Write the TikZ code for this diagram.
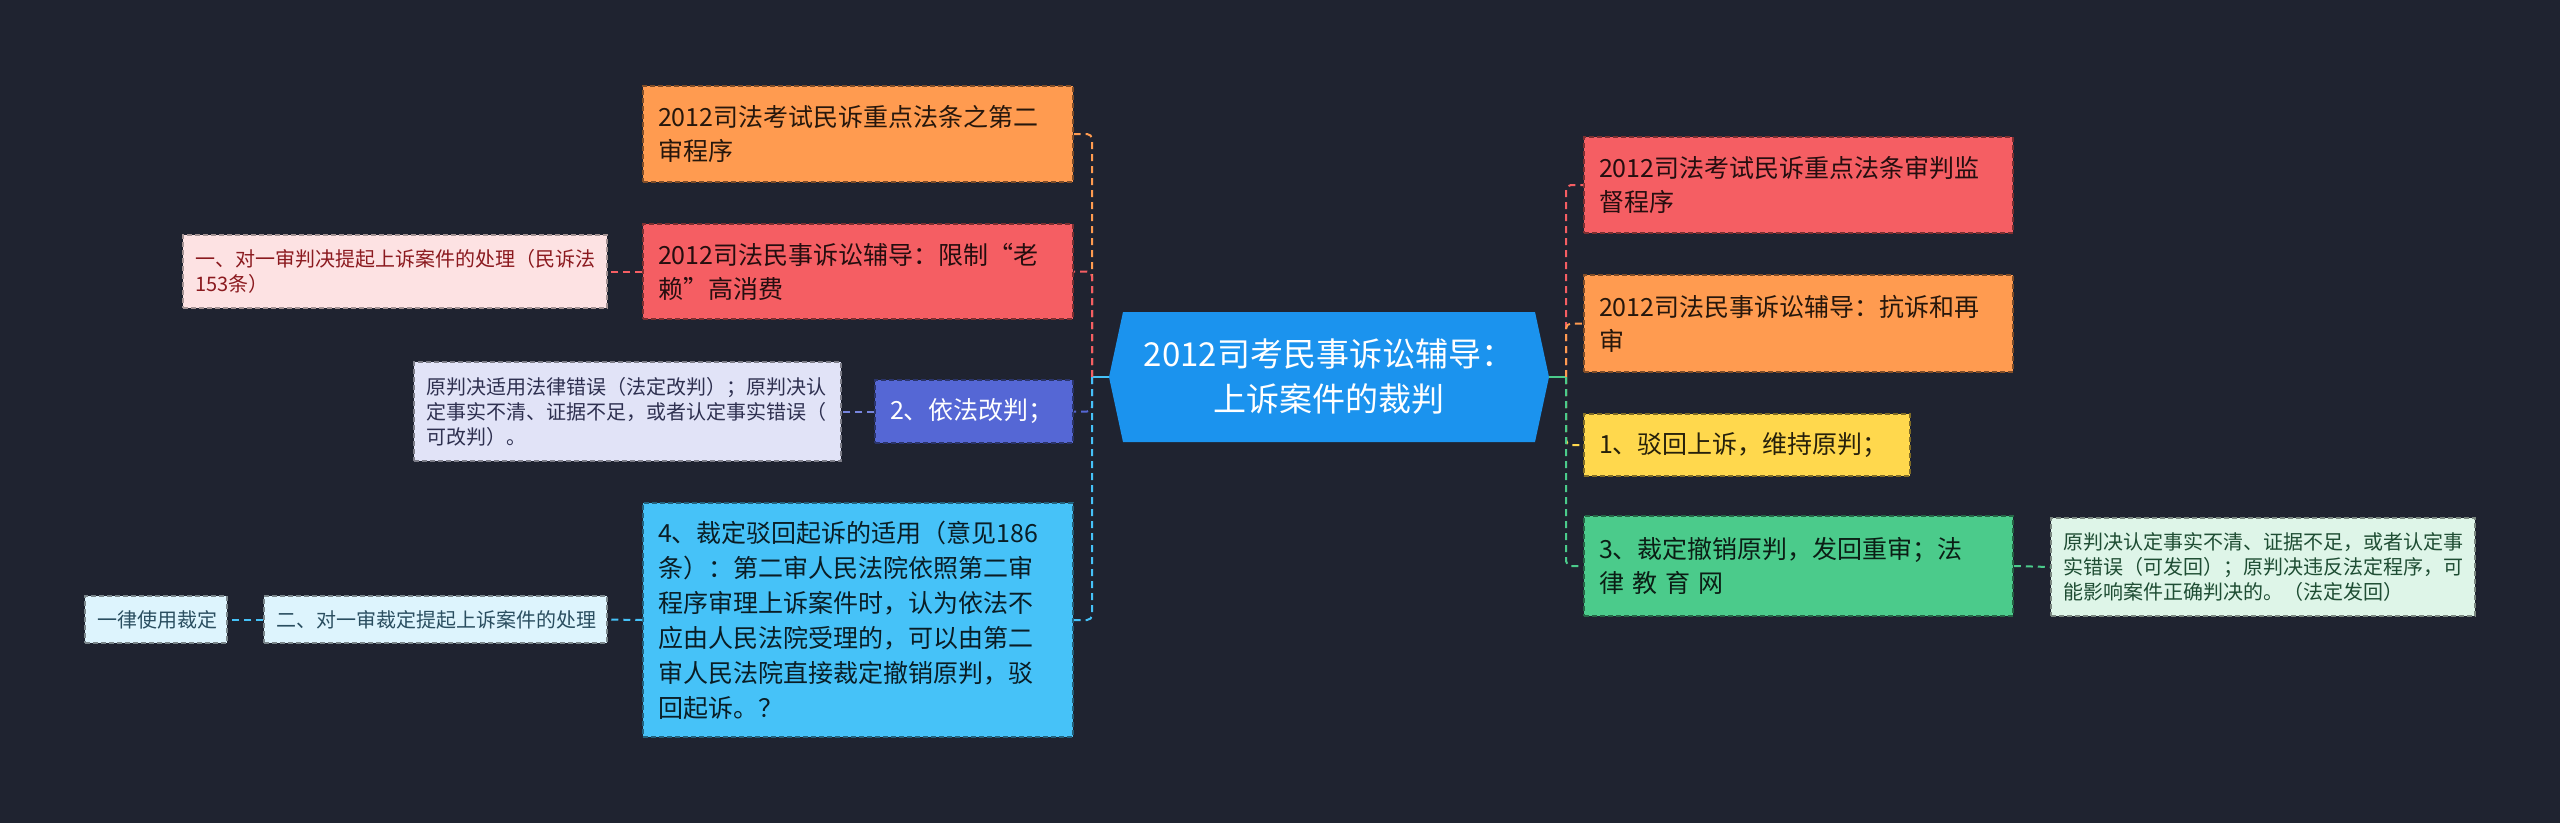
\documentclass[tikz,border=0pt]{standalone}
\usepackage{fontspec}
\setmainfont{Noto Sans CJK SC}
\definecolor{bg}{HTML}{1F2330}
\definecolor{cOrange}{HTML}{FF9B50}
\definecolor{cRed}{HTML}{F55E63}
\definecolor{cBlue}{HTML}{5567D5}
\definecolor{cCyan}{HTML}{46C2F8}
\definecolor{cCenter}{HTML}{1B93EE}
\definecolor{cYellow}{HTML}{FFD84D}
\definecolor{cGreen}{HTML}{4BCB8B}
\definecolor{lPink}{HTML}{FDE2E3}
\definecolor{lLav}{HTML}{E1E3F7}
\definecolor{lCyan}{HTML}{DDF4FD}
\definecolor{lGreen}{HTML}{DEF5E8}
\definecolor{tPink}{HTML}{8B1A1F}
\definecolor{tLav}{HTML}{2E3050}
\definecolor{tCyan}{HTML}{2A4E60}
\definecolor{tGreen}{HTML}{1E4D33}
\begin{document}
\begin{tikzpicture}[x=1pt,y=-1pt,
  box/.style={rectangle, draw, dash pattern=on 5pt off 3pt, line width=1.5pt, align=left, inner ysep=0pt, anchor=center},
  mainbox/.style={box, font=\fontsize{25}{34}\selectfont, inner xsep=15pt},
  subbox/.style={box, font=\fontsize{20}{25}\selectfont, inner xsep=12pt},
  colbox/.style={fill=#1, draw=#1!50!black, text=#1!15!black},
  link/.style={line width=2pt, dash pattern=on 7pt off 5pt, rounded corners=5pt},
  stub/.style={line width=2pt}]
\fill[bg] (0,0) rectangle (2560,823);
\useasboundingbox (0,0) rectangle (2560,823);
% center
\fill[cCenter] (1109,377) -- (1123,312) -- (1535,312) -- (1549,377) -- (1535,442) -- (1123,442) -- cycle;
\node[text=white, align=center, font=\fontsize{33}{45}\selectfont] (center) at (1329,377) {2012司考民事诉讼辅导：\\上诉案件的裁判};
\coordinate (cL) at (1109,377);
\coordinate (cR) at (1549,377);
\coordinate (tl) at (1092,377);
\coordinate (tr) at (1566,377);
% left boxes
\node[mainbox, colbox=cOrange, text width=400pt, minimum height=96pt] (o1) at (858,134) {2012司法考试民诉重点法条之第二\\审程序};
\node[mainbox, colbox=cRed, text width=400pt, minimum height=95pt] (r1) at (858,271.5) {2012司法民事诉讼辅导：限制“老\\赖”高消费};
\node[subbox, fill=lPink, draw=lPink!65!black, text=tPink, text width=400pt, minimum height=73pt] (pk) at (395,271.5) {一、对一审判决提起上诉案件的处理（民诉法\\153条）};
\node[mainbox, fill=cBlue, draw=cBlue!50!black, text=white, text width=168pt, minimum height=63pt] (b2) at (974,411.5) {2、依法改判；};
\node[subbox, fill=lLav, draw=lLav!55!black, text=tLav, text width=403pt, minimum height=99pt] (lv) at (627.5,411.5) {原判决适用法律错误（法定改判）；原判决认\\定事实不清、证据不足，或者认定事实错误（\\可改判）。};
\node[mainbox, colbox=cCyan, text width=400pt, minimum height=234pt, font=\fontsize{25}{35}\selectfont] (cy) at (858,620) {4、裁定驳回起诉的适用（意见186\\条）：第二审人民法院依照第二审\\程序审理上诉案件时，认为依法不\\应由人民法院受理的，可以由第二\\审人民法院直接裁定撤销原判，驳\\回起诉。？};
\node[subbox, fill=lCyan, draw=lCyan!55!black, text=tCyan, text width=319pt, minimum height=47pt] (lc) at (435.5,619.5) {二、对一审裁定提起上诉案件的处理};
\node[subbox, fill=lCyan, draw=lCyan!55!black, text=tCyan, text width=118pt, minimum height=47pt] (lc2) at (156,619.5) {一律使用裁定};
% right boxes
\node[mainbox, colbox=cRed, text width=399pt, minimum height=96pt] (ro) at (1798.5,185) {2012司法考试民诉重点法条审判监\\督程序};
\node[mainbox, colbox=cOrange, text width=399pt, minimum height=97pt] (ror) at (1798.5,323.5) {2012司法民事诉讼辅导：抗诉和再\\审};
\node[mainbox, colbox=cYellow, text width=296pt, minimum height=62pt] (yl) at (1747,445) {1、驳回上诉，维持原判；};
\node[mainbox, colbox=cGreen, text width=399pt, minimum height=100pt] (gr) at (1798.5,566) {3、裁定撤销原判，发回重审；法\\律 教 育 网};
\node[subbox, fill=lGreen, draw=lGreen!55!black, text=tGreen, text width=400pt, minimum height=98pt] (lg) at (2263,567) {原判决认定事实不清、证据不足，或者认定事\\实错误（可发回）；原判决违反法定程序，可\\能影响案件正确判决的。（法定发回）};
% connectors left
\draw[stub, cCyan] (cL) -- (tl);
\draw[link, cOrange] (tl) |- (o1.east);
\draw[link, cRed] (tl) |- (r1.east);
\draw[link, cBlue] (tl) |- (b2.east);
\draw[link, cCyan] (tl) |- (cy.east);
\draw[link, cRed] (r1.west) -- (pk.east);
\draw[link, cBlue!80!white] (b2.west) -- (lv.east);
\draw[link, cCyan] (cy.west) -- (lc.east);
\draw[link, cCyan] (lc.west) -- (lc2.east);
% connectors right
\draw[stub, cGreen] (cR) -- (tr);
\draw[link, cRed] (tr) |- (ro.west);
\draw[link, cOrange] (tr) |- (ror.west);
\draw[link, cYellow] (tr) |- (yl.west);
\draw[link, cGreen] (tr) |- (gr.west);
\draw[link, cGreen] (gr.east) -- (lg.west);
\end{tikzpicture}
\end{document}
